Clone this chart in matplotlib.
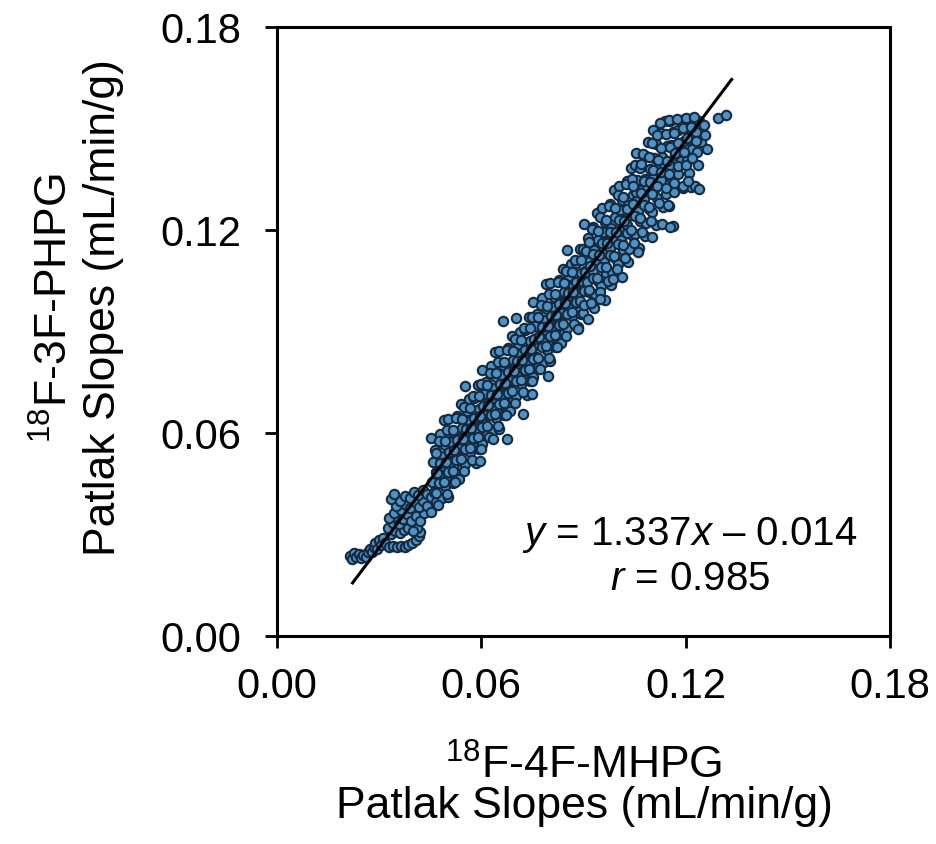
import matplotlib
matplotlib.use("Agg")
import matplotlib.pyplot as plt

plt.rcParams['font.family'] = ['Liberation Sans', 'DejaVu Sans']
plt.rcParams['mathtext.fontset'] = 'custom'
plt.rcParams['mathtext.rm'] = 'Liberation Sans'
plt.rcParams['mathtext.it'] = 'Liberation Sans:italic'

# Patlak slopes, 18F-4F-MHPG (x) vs 18F-3F-PHPG (y)
# lower tail and loop
mhpg_low = [0.0214, 0.0220, 0.0226, 0.0233, 0.0240, 0.0247, 0.0253, 0.0260, 0.0266, 0.0272,
            0.0278, 0.0284, 0.0289, 0.0295, 0.0300, 0.0306, 0.0312, 0.0318,
            0.0330, 0.0340, 0.0352, 0.0363, 0.0375, 0.0386, 0.0397, 0.0408, 0.0416, 0.0420, 0.0412,
            0.0335, 0.0348, 0.0360, 0.0372, 0.0385, 0.0398, 0.0325, 0.0340, 0.0352, 0.0330, 0.0345,
            0.0358, 0.0370, 0.0382, 0.0395, 0.0408, 0.0420, 0.0432, 0.0365, 0.0378, 0.0392, 0.0405,
            0.0418, 0.0430, 0.0442, 0.0350, 0.0362, 0.0376, 0.0390, 0.0402, 0.0415, 0.0428, 0.0440,
            0.0452, 0.0335, 0.0345]
phpg_low = [0.0235, 0.0226, 0.0244, 0.0232, 0.0241, 0.0229, 0.0240, 0.0233, 0.0247, 0.0258,
            0.0249, 0.0263, 0.0275, 0.0258, 0.0283, 0.0268, 0.0290, 0.0276,
            0.0262, 0.0265, 0.0262, 0.0266, 0.0263, 0.0270, 0.0276, 0.0284, 0.0295, 0.0308, 0.0318,
            0.0300, 0.0310, 0.0305, 0.0312, 0.0318, 0.0310, 0.0318, 0.0335, 0.0348, 0.0350, 0.0362,
            0.0330, 0.0345, 0.0360, 0.0340, 0.0355, 0.0340, 0.0362, 0.0372, 0.0388, 0.0378, 0.0395,
            0.0382, 0.0400, 0.0385, 0.0385, 0.0400, 0.0415, 0.0408, 0.0425, 0.0418, 0.0432, 0.0420,
            0.0410, 0.0405, 0.0420]

# middle of the band
mhpg_mid = [0.0453, 0.0464, 0.0458, 0.0468, 0.0455, 0.0461, 0.0466, 0.0451,
            0.0490, 0.0479, 0.0494, 0.0482, 0.0487, 0.0477, 0.0492, 0.0484,
            0.0503, 0.0514, 0.0508, 0.0518, 0.0505, 0.0511, 0.0516, 0.0501,
            0.0540, 0.0529, 0.0544, 0.0532, 0.0537, 0.0527, 0.0542, 0.0534,
            0.0553, 0.0564, 0.0558, 0.0568, 0.0555, 0.0561, 0.0566, 0.0551,
            0.0590, 0.0579, 0.0594, 0.0582, 0.0587, 0.0577, 0.0592, 0.0584,
            0.0603, 0.0614, 0.0608, 0.0618, 0.0605, 0.0611, 0.0616, 0.0601,
            0.0640, 0.0629, 0.0644, 0.0632, 0.0637, 0.0627, 0.0642, 0.0634,
            0.0653, 0.0664, 0.0658, 0.0668, 0.0655, 0.0661, 0.0666, 0.0651,
            0.0690, 0.0679, 0.0694, 0.0682, 0.0687, 0.0677, 0.0692, 0.0684,
            0.0703, 0.0714, 0.0708, 0.0718, 0.0705, 0.0711, 0.0716, 0.0701,
            0.0740, 0.0729, 0.0744, 0.0732, 0.0737, 0.0727, 0.0742, 0.0734,
            0.0753, 0.0764, 0.0758, 0.0768, 0.0755, 0.0761, 0.0766, 0.0751,
            0.0790, 0.0779, 0.0794, 0.0782, 0.0787, 0.0777, 0.0792, 0.0784,
            0.0803, 0.0814, 0.0808, 0.0818, 0.0805, 0.0811, 0.0816, 0.0801,
            0.0840, 0.0829, 0.0844, 0.0832, 0.0837, 0.0827, 0.0842, 0.0834,
            0.0853, 0.0864, 0.0858, 0.0868, 0.0855, 0.0861, 0.0866, 0.0851,
            0.0890, 0.0879, 0.0894, 0.0882, 0.0887, 0.0877, 0.0892, 0.0884]
phpg_mid = [0.0585, 0.0550, 0.0515, 0.0485, 0.0455, 0.0425, 0.0395, 0.0365,
            0.0638, 0.0598, 0.0563, 0.0533, 0.0503, 0.0473, 0.0443, 0.0408,
            0.0642, 0.0602, 0.0572, 0.0542, 0.0512, 0.0482, 0.0452, 0.0412,
            0.0685, 0.0650, 0.0615, 0.0585, 0.0555, 0.0525, 0.0495, 0.0465,
            0.0739, 0.0699, 0.0664, 0.0634, 0.0604, 0.0574, 0.0544, 0.0509,
            0.0742, 0.0702, 0.0672, 0.0642, 0.0612, 0.0582, 0.0552, 0.0512,
            0.0786, 0.0751, 0.0716, 0.0686, 0.0656, 0.0626, 0.0596, 0.0566,
            0.0839, 0.0799, 0.0764, 0.0734, 0.0704, 0.0674, 0.0644, 0.0609,
            0.0842, 0.0802, 0.0772, 0.0742, 0.0712, 0.0682, 0.0652, 0.0612,
            0.0886, 0.0851, 0.0816, 0.0786, 0.0756, 0.0726, 0.0696, 0.0666,
            0.0939, 0.0899, 0.0864, 0.0834, 0.0804, 0.0774, 0.0744, 0.0709,
            0.0943, 0.0903, 0.0873, 0.0843, 0.0813, 0.0783, 0.0753, 0.0713,
            0.0986, 0.0951, 0.0916, 0.0886, 0.0856, 0.0826, 0.0796, 0.0766,
            0.1040, 0.1000, 0.0965, 0.0935, 0.0905, 0.0875, 0.0845, 0.0810,
            0.1043, 0.1003, 0.0973, 0.0943, 0.0913, 0.0883, 0.0853, 0.0813,
            0.1086, 0.1051, 0.1016, 0.0986, 0.0956, 0.0926, 0.0896, 0.0866,
            0.1140, 0.1100, 0.1065, 0.1035, 0.1005, 0.0975, 0.0945, 0.0910,
            0.1143, 0.1103, 0.1073, 0.1043, 0.1013, 0.0983, 0.0953, 0.0913]

# more points in between, middle of the band
mhpg_mid2 = [0.0475, 0.0467, 0.0479, 0.0470, 0.0477, 0.0466, 0.0473,
             0.0500, 0.0492, 0.0504, 0.0495, 0.0502, 0.0491, 0.0498,
             0.0525, 0.0517, 0.0529, 0.0520, 0.0527, 0.0516, 0.0523,
             0.0550, 0.0542, 0.0554, 0.0545, 0.0552, 0.0541, 0.0548,
             0.0575, 0.0567, 0.0579, 0.0570, 0.0577, 0.0566, 0.0573,
             0.0600, 0.0592, 0.0604, 0.0595, 0.0602, 0.0591, 0.0598,
             0.0625, 0.0617, 0.0629, 0.0620, 0.0627, 0.0616, 0.0623,
             0.0650, 0.0642, 0.0654, 0.0645, 0.0652, 0.0641, 0.0648,
             0.0675, 0.0667, 0.0679, 0.0670, 0.0677, 0.0666, 0.0673,
             0.0700, 0.0692, 0.0704, 0.0695, 0.0702, 0.0691, 0.0698,
             0.0725, 0.0717, 0.0729, 0.0720, 0.0727, 0.0716, 0.0723,
             0.0750, 0.0742, 0.0754, 0.0745, 0.0752, 0.0741, 0.0748,
             0.0775, 0.0767, 0.0779, 0.0770, 0.0777, 0.0766, 0.0773,
             0.0800, 0.0792, 0.0804, 0.0795, 0.0802, 0.0791, 0.0798,
             0.0825, 0.0817, 0.0829, 0.0820, 0.0827, 0.0816, 0.0823,
             0.0850, 0.0842, 0.0854, 0.0845, 0.0852, 0.0841, 0.0848,
             0.0875, 0.0867, 0.0879, 0.0870, 0.0877, 0.0866, 0.0873,
             0.0900, 0.0892, 0.0904, 0.0895, 0.0902, 0.0891, 0.0898]
phpg_mid2 = [0.0577, 0.0542, 0.0512, 0.0482, 0.0452, 0.0422, 0.0387,
             0.0610, 0.0575, 0.0545, 0.0515, 0.0485, 0.0455, 0.0420,
             0.0644, 0.0609, 0.0579, 0.0549, 0.0519, 0.0489, 0.0454,
             0.0677, 0.0642, 0.0612, 0.0582, 0.0552, 0.0522, 0.0487,
             0.0710, 0.0675, 0.0645, 0.0615, 0.0585, 0.0555, 0.0520,
             0.0744, 0.0709, 0.0679, 0.0649, 0.0619, 0.0589, 0.0554,
             0.0777, 0.0742, 0.0712, 0.0682, 0.0652, 0.0622, 0.0587,
             0.0811, 0.0776, 0.0746, 0.0716, 0.0686, 0.0656, 0.0621,
             0.0844, 0.0809, 0.0779, 0.0749, 0.0719, 0.0689, 0.0654,
             0.0878, 0.0843, 0.0813, 0.0783, 0.0753, 0.0723, 0.0688,
             0.0911, 0.0876, 0.0846, 0.0816, 0.0786, 0.0756, 0.0721,
             0.0944, 0.0909, 0.0879, 0.0849, 0.0819, 0.0789, 0.0754,
             0.0978, 0.0943, 0.0913, 0.0883, 0.0853, 0.0823, 0.0788,
             0.1011, 0.0976, 0.0946, 0.0916, 0.0886, 0.0856, 0.0821,
             0.1045, 0.1010, 0.0980, 0.0950, 0.0920, 0.0890, 0.0855,
             0.1078, 0.1043, 0.1013, 0.0983, 0.0953, 0.0923, 0.0888,
             0.1112, 0.1077, 0.1047, 0.1017, 0.0987, 0.0957, 0.0922,
             0.1145, 0.1110, 0.1080, 0.1050, 0.1020, 0.0990, 0.0955]

# upper part of the band
mhpg_high = [0.0903, 0.0914, 0.0908, 0.0918, 0.0905, 0.0911, 0.0916, 0.0901, 0.0913,
             0.0940, 0.0929, 0.0944, 0.0932, 0.0937, 0.0927, 0.0942, 0.0934, 0.0931,
             0.0953, 0.0964, 0.0958, 0.0968, 0.0955, 0.0961, 0.0966, 0.0951, 0.0963,
             0.0990, 0.0979, 0.0994, 0.0982, 0.0987, 0.0977, 0.0992, 0.0984, 0.0981,
             0.1003, 0.1014, 0.1008, 0.1018, 0.1005, 0.1011, 0.1016, 0.1001, 0.1013,
             0.1040, 0.1029, 0.1044, 0.1032, 0.1037, 0.1027, 0.1042, 0.1034, 0.1031,
             0.1053, 0.1064, 0.1058, 0.1068, 0.1055, 0.1061, 0.1066, 0.1051, 0.1063,
             0.1090, 0.1079, 0.1094, 0.1082, 0.1087, 0.1077, 0.1092, 0.1084, 0.1081,
             0.1103, 0.1114, 0.1108, 0.1118, 0.1105, 0.1111, 0.1116, 0.1101, 0.1113,
             0.1140, 0.1129, 0.1144, 0.1132, 0.1137, 0.1127, 0.1142, 0.1134, 0.1131,
             0.1153, 0.1164, 0.1158, 0.1168, 0.1155, 0.1161, 0.1166, 0.1151, 0.1163,
             0.1190, 0.1179, 0.1194, 0.1182, 0.1187, 0.1177, 0.1192,
             0.1203, 0.1214, 0.1208, 0.1218, 0.1205, 0.1211, 0.1216,
             0.1240, 0.1229, 0.1244, 0.1232, 0.1237, 0.1227,
             0.1258, 0.1262, 0.1255, 0.1295, 0.1318]
phpg_high = [0.1217, 0.1177, 0.1137, 0.1107, 0.1077, 0.1047, 0.1017, 0.0977, 0.0937,
             0.1250, 0.1210, 0.1170, 0.1140, 0.1110, 0.1080, 0.1050, 0.1010, 0.0970,
             0.1264, 0.1224, 0.1194, 0.1164, 0.1134, 0.1104, 0.1074, 0.1034, 0.0994,
             0.1317, 0.1277, 0.1237, 0.1207, 0.1177, 0.1147, 0.1117, 0.1077, 0.1037,
             0.1330, 0.1290, 0.1260, 0.1230, 0.1200, 0.1170, 0.1140, 0.1100, 0.1060,
             0.1384, 0.1344, 0.1304, 0.1274, 0.1244, 0.1214, 0.1184, 0.1144, 0.1104,
             0.1427, 0.1387, 0.1347, 0.1317, 0.1287, 0.1257, 0.1227, 0.1187, 0.1147,
             0.1461, 0.1421, 0.1381, 0.1351, 0.1321, 0.1291, 0.1261, 0.1221, 0.1181,
             0.1494, 0.1454, 0.1414, 0.1384, 0.1354, 0.1324, 0.1294, 0.1254, 0.1214,
             0.1522, 0.1487, 0.1447, 0.1417, 0.1387, 0.1347, 0.1307, 0.1267, 0.1217,
             0.1521, 0.1491, 0.1451, 0.1421, 0.1391, 0.1351, 0.1311, 0.1271, 0.1211,
             0.1524, 0.1494, 0.1464, 0.1434, 0.1404, 0.1364, 0.1324,
             0.1528, 0.1498, 0.1468, 0.1438, 0.1408, 0.1368, 0.1328,
             0.1521, 0.1491, 0.1461, 0.1431, 0.1391, 0.1331,
             0.1480, 0.1440, 0.1510, 0.1531, 0.1540]

# more points in between, upper part
mhpg_high2 = [0.0925, 0.0917, 0.0929, 0.0920, 0.0927, 0.0916, 0.0923,
              0.0950, 0.0942, 0.0954, 0.0945, 0.0952, 0.0941, 0.0948,
              0.0975, 0.0967, 0.0979, 0.0970, 0.0977, 0.0966, 0.0973,
              0.1000, 0.0992, 0.1004, 0.0995, 0.1002, 0.0991, 0.0998,
              0.1025, 0.1017, 0.1029, 0.1020, 0.1027, 0.1016, 0.1023,
              0.1050, 0.1042, 0.1054, 0.1045, 0.1052, 0.1041, 0.1048,
              0.1075, 0.1067, 0.1079, 0.1070, 0.1077, 0.1066, 0.1073,
              0.1100, 0.1092, 0.1104, 0.1095, 0.1102, 0.1091, 0.1098,
              0.1125, 0.1117, 0.1129, 0.1120, 0.1127, 0.1116, 0.1123,
              0.1150, 0.1142, 0.1154, 0.1145, 0.1152, 0.1141, 0.1148,
              0.1175, 0.1167, 0.1179, 0.1170, 0.1177, 0.1166,
              0.1200, 0.1192, 0.1204, 0.1195, 0.1202, 0.1191,
              0.1225, 0.1217, 0.1229, 0.1220]
phpg_high2 = [0.1203, 0.1163, 0.1128, 0.1093, 0.1058, 0.1023, 0.0983,
              0.1237, 0.1197, 0.1162, 0.1127, 0.1092, 0.1057, 0.1017,
              0.1270, 0.1230, 0.1195, 0.1160, 0.1125, 0.1090, 0.1050,
              0.1304, 0.1264, 0.1229, 0.1194, 0.1159, 0.1124, 0.1084,
              0.1337, 0.1297, 0.1262, 0.1227, 0.1192, 0.1157, 0.1117,
              0.1391, 0.1351, 0.1311, 0.1276, 0.1241, 0.1201, 0.1161,
              0.1424, 0.1384, 0.1344, 0.1309, 0.1274, 0.1234, 0.1194,
              0.1457, 0.1417, 0.1377, 0.1342, 0.1307, 0.1267, 0.1227,
              0.1516, 0.1481, 0.1441, 0.1406, 0.1371, 0.1331, 0.1281,
              0.1524, 0.1484, 0.1444, 0.1404, 0.1364, 0.1324, 0.1274,
              0.1528, 0.1488, 0.1458, 0.1428, 0.1388, 0.1338,
              0.1531, 0.1501, 0.1471, 0.1431, 0.1391, 0.1331,
              0.1534, 0.1504, 0.1464, 0.1414]

# scattered points off the band
mhpg_out = [0.0664, 0.0596, 0.0634, 0.0675, 0.0722, 0.0749, 0.0796, 0.0884, 0.0948,
            0.0987, 0.1060, 0.1100, 0.1154, 0.1207, 0.1240, 0.1045, 0.1070]
phpg_out = [0.0931, 0.0517, 0.0582, 0.0582, 0.0656, 0.0716, 0.0769, 0.0907, 0.0996,
            0.1055, 0.1135, 0.1180, 0.1210, 0.1345, 0.1320, 0.1330, 0.1395]

fit_slope = 1.337
fit_icpt = -0.014
fit_range = [0.0222, 0.1335]
ticks = [0.00, 0.06, 0.12, 0.18]

mhpg = mhpg_low + mhpg_mid + mhpg_mid2 + mhpg_high + mhpg_high2 + mhpg_out
phpg = phpg_low + phpg_mid + phpg_mid2 + phpg_high + phpg_high2 + phpg_out

fig = plt.figure(figsize=(9.37, 8.45), dpi=100)
ax = fig.add_axes([0.2956, 0.2462, 0.6542, 0.7207])

ax.scatter(mhpg, phpg, s=46, facecolor='#4f91c2', edgecolor='#132a40', linewidth=1.5, zorder=2)
ax.plot(fit_range, [fit_slope * v + fit_icpt for v in fit_range], color='black', lw=2.2, zorder=3)

ax.set_xlim(0, 0.18)
ax.set_ylim(0, 0.18)
ax.set_xticks(ticks)
ax.set_yticks(ticks)
ax.set_xticklabels(['%.2f' % t for t in ticks])
ax.set_yticklabels(['%.2f' % t for t in ticks])
ax.tick_params(direction='out', length=8.6, width=2.0, labelsize=30, colors='black')
ax.tick_params(axis='x', pad=13)
ax.tick_params(axis='y', pad=17)
for sp in ax.spines.values():
    sp.set_linewidth(2.2)

ax.text(0.1213, 0.0302, r'$y$ = 1.337$x$ – 0.014', fontsize=29, ha='center', va='center')
ax.text(0.1213, 0.0172, r'$r$ = 0.985', fontsize=29, ha='center', va='center')

fig.text(55 / 937, 1 - 308 / 845, r'$^{18}$F-3F-PHPG', rotation=90, fontsize=32, ha='center', va='center')
fig.text(104 / 937, 1 - 308 / 845, 'Patlak Slopes (mL/min/g)', rotation=90, fontsize=32,
         ha='center', va='center')
fig.text(584 / 937, 1 - 766 / 845, r'$^{18}$F-4F-MHPG', fontsize=32, ha='center', va='center')
fig.text(584 / 937, 1 - 807 / 845, 'Patlak Slopes (mL/min/g)', fontsize=32, ha='center', va='center')

fig.savefig('out.png', dpi=100)
